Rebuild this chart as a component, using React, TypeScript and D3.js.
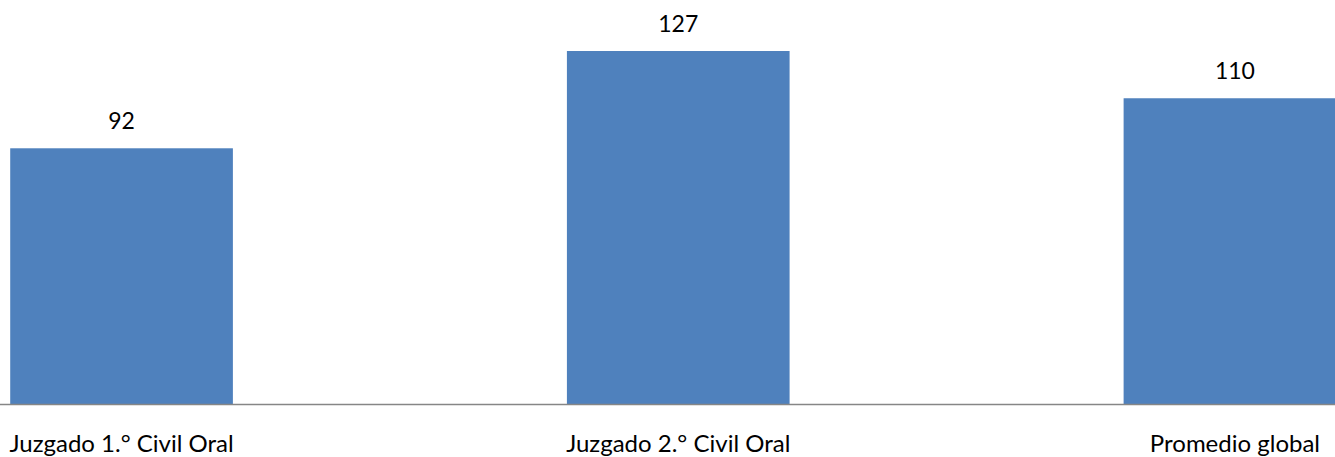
import React, { useEffect, useRef } from "react";
import * as d3 from "d3";

const categories = ["Juzgado 1.° Civil Oral", "Juzgado 2.° Civil Oral", "Promedio global"];
const values = [92, 127, 110];

const App: React.FC = () => {
  const chartRef = useRef<SVGSVGElement | null>(null);

  useEffect(() => {
    const width = 1335;
    const height = 457;
    const baseline = 404;
    const font = "Lato, 'Open Sans', sans-serif";

    const svg = d3.select(chartRef.current);
    svg.selectAll("*").remove();
    svg.attr("width", width).attr("height", height);

    // plot area is wider than the visible picture, last bar gets cut at the edge
    const x = d3
      .scaleBand()
      .domain(categories)
      .range([-156.8, 1513.3])
      .paddingInner(0.6)
      .paddingOuter(0.3);

    const y = d3.scaleLinear().domain([0, 127]).range([baseline, 51]);

    const data = categories.map((c, i) => ({ cat: c, value: values[i] }));

    svg
      .selectAll("rect.bar")
      .data(data)
      .enter()
      .append("rect")
      .attr("class", "bar")
      .attr("x", (d) => x(d.cat) as number)
      .attr("y", (d) => y(d.value))
      .attr("width", x.bandwidth())
      .attr("height", (d) => baseline - y(d.value))
      .attr("fill", "#4F81BD");

    svg
      .append("line")
      .attr("x1", 0)
      .attr("x2", width)
      .attr("y1", baseline + 0.5)
      .attr("y2", baseline + 0.5)
      .attr("stroke", "#868686")
      .attr("stroke-width", 1.5);

    svg
      .selectAll("text.value")
      .data(data)
      .enter()
      .append("text")
      .attr("class", "value")
      .attr("x", (d) => (x(d.cat) as number) + x.bandwidth() / 2)
      .attr("y", (d) => y(d.value) - 19)
      .attr("text-anchor", "middle")
      .style("font-family", font)
      .style("font-size", "23px")
      .style("fill", "#000")
      .text((d) => d.value);

    svg
      .selectAll("text.cat")
      .data(data)
      .enter()
      .append("text")
      .attr("class", "cat")
      .attr("x", (d) => (x(d.cat) as number) + x.bandwidth() / 2)
      .attr("y", 452)
      .attr("text-anchor", "middle")
      .style("font-family", font)
      .style("font-size", "24px")
      .style("fill", "#000")
      .text((d) => d.cat);
  }, []);

  return (
    <div style={{ position: "absolute", left: 0, top: 0, width: 1335, height: 457, background: "#fff" }}>
      <svg ref={chartRef} style={{ display: "block" }} />
    </div>
  );
};

export default App;
